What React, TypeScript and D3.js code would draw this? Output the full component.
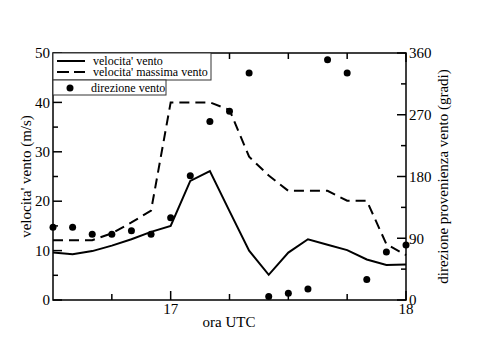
import * as d3 from 'd3';

// orari di misura (UTC), ogni 5 minuti
const times = [
  '16:30', '16:35', '16:40', '16:45', '16:50', '16:55', '17:00', '17:05', '17:10', '17:15',
  '17:20', '17:25', '17:30', '17:35', '17:40', '17:45', '17:50', '17:55', '18:00',
];
// velocita' vento (m/s)
const windSpeed = [9.6, 9.25, 9.9, 11, 12.3, 13.8, 15, 24.1, 26.1, 18, 10, 5.1, 9.6, 12.3, 11.2, 10.1, 8.2, 7.1, 7.2];
// velocita' massima vento (m/s)
const windGust = [12.1, 12.1, 12.1, 13.5, 15.7, 18.1, 40, 40, 40, 38.5, 29, 25.2, 22.1, 22.1, 22.1, 20.1, 20.1, 11.3, 9.1];
// direzione vento (gradi)
const windDir = [106, 106, 96, 96, 101, 96, 120, 181, 260, 275, 331, 5, 10, 16, 350, 331, 30, 70, 80];

const leftTicks = [0, 10, 20, 30, 40, 50];
const leftMinor = [5, 15, 25, 35, 45];
const rightTicks = [0, 90, 180, 270, 360];
const rightMinor = [45, 135, 225, 315];
const xMajor = ['17:00', '18:00'];
const xMinor = ['16:45', '17:15', '17:30', '17:45'];

const parse = d3.timeParse('%H:%M');
const FONT = '"Liberation Serif", "Times New Roman", serif';

const App = () => {
  const left = 53, right = 406, top = 53, bottom = 300;

  const x = d3.scaleTime()
    .domain([parse('16:30'), parse('18:00')])
    .range([left, right]);
  const y = d3.scaleLinear().domain([0, 50]).range([bottom, top]);
  const y2 = d3.scaleLinear().domain([0, 360]).range([bottom, top]);

  const line = d3.line()
    .x((d) => x(d[0]))
    .y((d) => y(d[1]));

  const speedPts = times.map((t, i) => [parse(t), windSpeed[i]]);
  const gustPts = times.map((t, i) => [parse(t), windGust[i]]);

  return (
    <svg width={500} height={353} style={{ position: 'absolute', left: 0, top: 0, background: '#fff' }}
      fontFamily={FONT}>
      {/* dati */}
      <path d={line(speedPts)} fill="none" stroke="#000" strokeWidth={2} />
      <path d={line(gustPts)} fill="none" stroke="#000" strokeWidth={2} strokeDasharray="10,6" />
      {times.map((t, i) => (
        <circle key={t} cx={x(parse(t))} cy={y2(windDir[i])} r={3.5} fill="#000" />
      ))}

      {/* cornice */}
      <rect x={left} y={top} width={right - left} height={bottom - top} fill="none" stroke="#000" strokeWidth={1.5} />

      {/* asse sinistro */}
      {leftTicks.map((v) => (
        <g key={'l' + v}>
          <line x1={left} x2={left + 9} y1={y(v)} y2={y(v)} stroke="#000" strokeWidth={1.5} />
          <text x={left - 3} y={y(v)} dy="0.35em" textAnchor="end" fontSize={15}>{v}</text>
        </g>
      ))}
      {leftMinor.map((v) => (
        <line key={'lm' + v} x1={left} x2={left + 5} y1={y(v)} y2={y(v)} stroke="#000" strokeWidth={1.5} />
      ))}

      {/* asse destro */}
      {rightTicks.map((v) => (
        <g key={'r' + v}>
          <line x1={right} x2={right - 9} y1={y2(v)} y2={y2(v)} stroke="#000" strokeWidth={1.5} />
          <text x={right + 3} y={y2(v)} dy="0.35em" textAnchor="start" fontSize={15}>{v}</text>
        </g>
      ))}
      {rightMinor.map((v) => (
        <line key={'rm' + v} x1={right} x2={right - 5} y1={y2(v)} y2={y2(v)} stroke="#000" strokeWidth={1.5} />
      ))}

      {/* asse x */}
      {xMajor.map((t) => (
        <g key={'x' + t}>
          <line x1={x(parse(t))} x2={x(parse(t))} y1={bottom} y2={bottom - 9} stroke="#000" strokeWidth={1.5} />
          <line x1={x(parse(t))} x2={x(parse(t))} y1={top} y2={top + 9} stroke="#000" strokeWidth={1.5} />
          <text x={x(parse(t))} y={bottom + 14} textAnchor="middle" fontSize={15}>{d3.timeFormat('%-H')(parse(t))}</text>
        </g>
      ))}
      {xMinor.map((t) => (
        <g key={'xm' + t}>
          <line x1={x(parse(t))} x2={x(parse(t))} y1={bottom} y2={bottom - 6} stroke="#000" strokeWidth={1.5} />
          <line x1={x(parse(t))} x2={x(parse(t))} y1={top} y2={top + 6} stroke="#000" strokeWidth={1.5} />
        </g>
      ))}

      {/* titoli assi */}
      <text x={229} y={327} textAnchor="middle" fontSize={15}>ora UTC</text>
      <text transform={`translate(31,${(top + bottom) / 2}) rotate(-90)`} textAnchor="middle" fontSize={15}>
        velocita' vento (m/s)
      </text>
      <text transform={`translate(448,${(top + bottom) / 2}) rotate(-90)`} textAnchor="middle" fontSize={15}>
        direzione provenienza vento (gradi)
      </text>

      {/* legenda */}
      <rect x={left} y={top} width={158} height={27} fill="#fff" stroke="#333" strokeWidth={1} />
      <line x1={57} x2={85} y1={61} y2={61} stroke="#000" strokeWidth={2} />
      <text x={93} y={65} fontSize={12}>velocita' vento</text>
      <line x1={57} x2={85} y1={72} y2={72} stroke="#000" strokeWidth={2} strokeDasharray="12,5" />
      <text x={93} y={76} fontSize={12}>velocita' massima vento</text>
      <rect x={left} y={80} width={113} height={15} fill="#fff" stroke="#333" strokeWidth={1} />
      <circle cx={70} cy={88} r={3.5} fill="#000" />
      <text x={91} y={92} fontSize={12}>direzione vento</text>
    </svg>
  );
};

export default App;
